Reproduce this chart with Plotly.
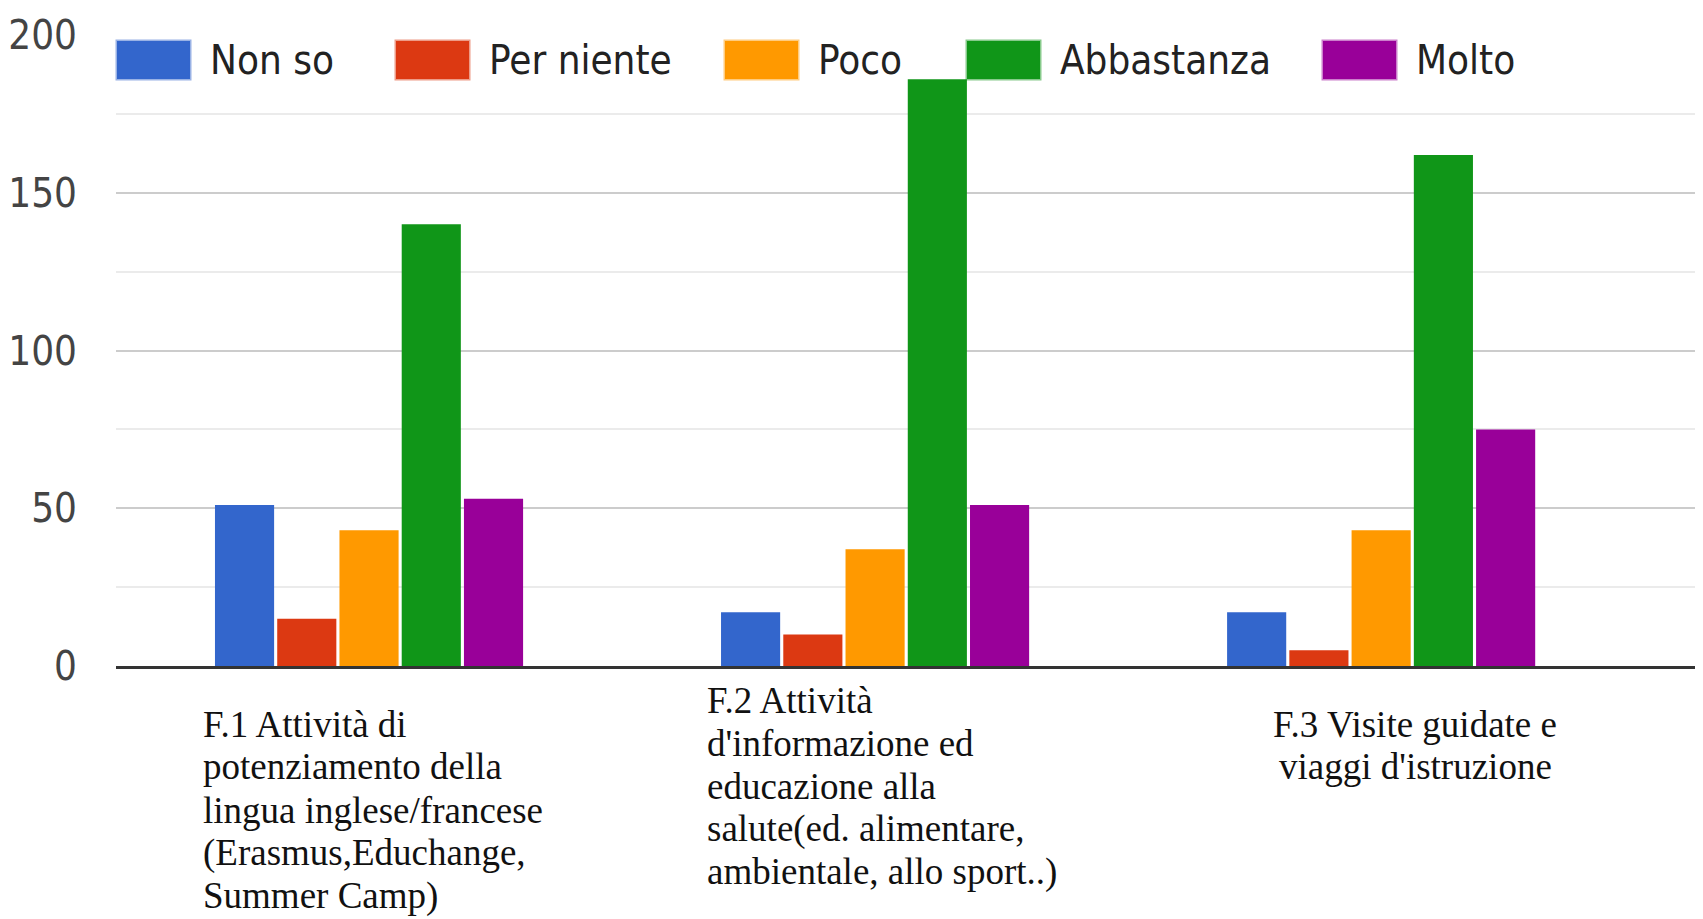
import plotly.graph_objects as go

# ---------------------------------------------------------------------
# Data
# ---------------------------------------------------------------------
CATEGORIES = ["F.1", "F.2", "F.3"]
CATEGORY_LINES = [
    ["F.1 Attività di", "potenziamento della", "lingua inglese/francese",
     "(Erasmus,Educhange,", "Summer Camp)"],
    ["F.2 Attività", "d'informazione ed", "educazione alla",
     "salute(ed. alimentare,", "ambientale, allo sport..)"],
    ["F.3 Visite guidate e", "viaggi d'istruzione"],
]
SERIES = ["Non so", "Per niente", "Poco", "Abbastanza", "Molto"]
NON_SO = [51, 17, 17]
PER_NIENTE = [15, 10, 5]
POCO = [43, 37, 43]
ABBASTANZA = [140, 186, 162]
MOLTO = [53, 51, 75]
Y_TICKS = [0, 50, 100, 150, 200]

# ---------------------------------------------------------------------
# Style
# ---------------------------------------------------------------------
COLORS = ["#3366CC", "#DC3912", "#FF9900", "#109618", "#990099"]
SANS = "DejaVu Sans Condensed, Liberation Sans Narrow, Liberation Sans, Arial"
SERIF = "Liberation Serif, Times New Roman, serif"

# page body has an 8px margin, so the figure is drawn that much smaller
BODY = 8
WIN_W, WIN_H = 1703, 919
L, R, T, B = 116, 1703, 35, 666          # plot area in window pixels


def px_x(x):
    return (x - L) / (R - L)


def px_y(y):
    return (B - y) / (B - T)


def rgba(hex_color, a):
    h = hex_color.lstrip("#")
    r, g, b = int(h[0:2], 16), int(h[2:4], 16), int(h[4:6], 16)
    return f"rgba({r},{g},{b},{a})"


values = [NON_SO, PER_NIENTE, POCO, ABBASTANZA, MOLTO]

fig = go.Figure()
for name, vals, color in zip(SERIES, values, COLORS):
    fig.add_trace(go.Bar(x=CATEGORIES, y=vals, name=name, marker_color=color,
                         marker_line_width=0, showlegend=False))

fig.update_layout(
    width=WIN_W - BODY, height=WIN_H - BODY,
    margin=dict(l=L - BODY, r=WIN_W - R, t=T - BODY, b=WIN_H - B),
    paper_bgcolor="white", plot_bgcolor="white",
    barmode="group", bargap=0.385, bargroupgap=0.05,
    font=dict(family=SANS, size=40, color="#444444"),
)
fig.update_xaxes(
    range=[-0.5, 2.636], showticklabels=False, showgrid=False, zeroline=False,
    showline=True, linecolor="#333333", linewidth=3,
)
fig.update_yaxes(
    range=[0, 200], tickvals=Y_TICKS, showgrid=True, gridcolor="#cccccc", gridwidth=2,
    zeroline=False, ticks="", ticklabelstandoff=38,
    tickfont=dict(family=SANS, size=40, color="#444444"),
    minor=dict(dtick=25, showgrid=True, gridcolor="#ebebeb", gridwidth=2),
)

# legend drawn by hand so the swatches can be as large as in the original
SWATCH_LEFT = [117, 396, 725, 967, 1323]
for name, color, x0 in zip(SERIES, COLORS, SWATCH_LEFT):
    fig.add_shape(type="rect", xref="paper", yref="paper",
                  x0=px_x(x0), x1=px_x(x0 + 73), y0=px_y(79), y1=px_y(41),
                  fillcolor=color, line=dict(color=rgba(color, 0.5), width=3), layer="above")
    fig.add_annotation(xref="paper", yref="paper", x=px_x(x0 + 91), y=px_y(60),
                       text=name, showarrow=False, xanchor="left", yanchor="middle",
                       font=dict(family=SANS, size=40, color="#222222"))

# category labels under the axis
LABEL_SHIFT = [-168, -170, 34]
LABEL_ANCHOR = ["left", "left", "center"]
LABEL_TOP = [724, 700, 724]
for i, lines in enumerate(CATEGORY_LINES):
    for j, line in enumerate(lines):
        fig.add_annotation(xref="x", yref="paper", x=i, y=px_y(LABEL_TOP[i] + 43 * j),
                           xshift=LABEL_SHIFT[i], text=line, showarrow=False,
                           xanchor=LABEL_ANCHOR[i], yanchor="middle",
                           font=dict(family=SERIF, size=37, color="#111111"))

fig.write_html("out.html")
